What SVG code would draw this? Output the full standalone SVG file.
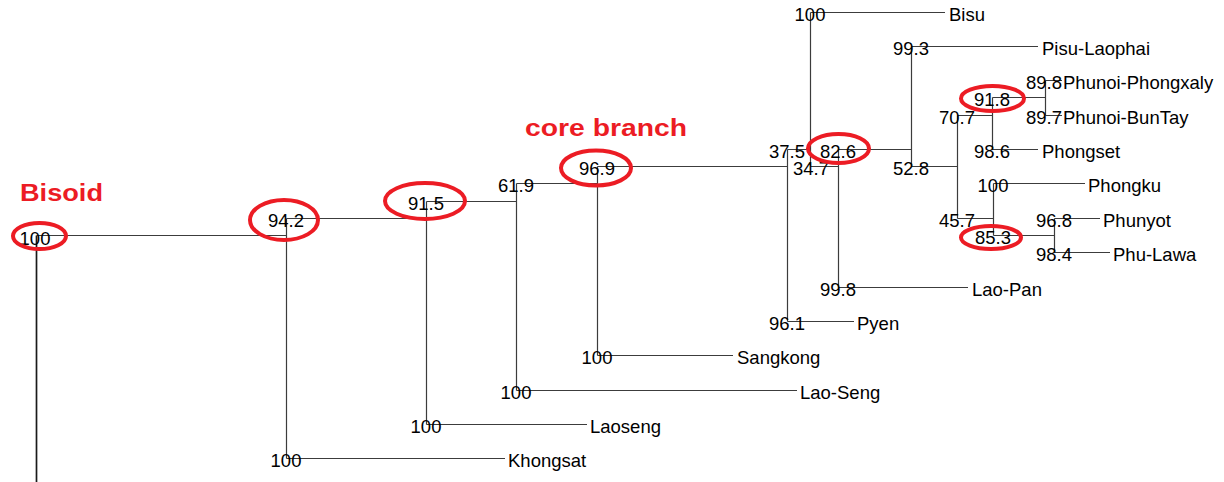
<svg xmlns="http://www.w3.org/2000/svg" width="1224" height="482" viewBox="0 0 1224 482">
  <style>
    .edge { fill: none; stroke: #3c3c3c; stroke-width: 1.2; }
    .root-edge { fill: none; stroke: #1a1a1a; stroke-width: 1.7; }
    .bs { font-family: "Liberation Sans", Arial, sans-serif; font-size: 18.5px; fill: #000; text-anchor: middle; }
    .taxon { font-family: "Liberation Sans", Arial, sans-serif; font-size: 18.5px; fill: #000; }
    .mark { fill: none; stroke: #ec1c24; stroke-width: 4; }
    .note { font-family: "Liberation Sans", Arial, sans-serif; font-size: 23px; font-weight: bold; fill: #ec1c24; }
  </style>

  <!-- branches: verticals at each internal node, horizontals to children -->
  <g id="connectors">
    <path class="root-edge" d="M36.5 235.5 V482"/>
    <path class="edge" d="M286.5 218.5 V458.5 M426.5 201.5 V424.5 M516.5 183.5 V390.5 M597.5 166.5 V355.5 M787.5 149.5 V321.5 M810.5 12.5 V166.5 M838.5 149.5 V287.5 M911.5 46.5 V166.5 M957.5 115.5 V218.5 M992.5 97.5 V149.5 M1045.5 80.5 V115.5 M993.5 183.5 V235.5 M1054.5 218.5 V252.5"/>
    <path class="edge" d="M36.5 235.5 H286.5 M286.5 218.5 H426.5 M286.5 458.5 H505 M426.5 201.5 H516.5 M426.5 424.5 H587 M516.5 183.5 H597.5 M516.5 390.5 H797 M597.5 166.5 H787.5 M597.5 355.5 H733 M787.5 149.5 H810.5 M787.5 321.5 H854 M810.5 12.5 H945 M810.5 166.5 H838.5 M838.5 149.5 H911.5 M838.5 287.5 H968 M911.5 46.5 H1038 M911.5 166.5 H957.5 M957.5 115.5 H992.5 M957.5 218.5 H993.5 M992.5 97.5 H1045.5 M992.5 149.5 H1038 M1045.5 80.5 H1062 M1045.5 115.5 H1062 M993.5 183.5 H1085 M993.5 235.5 H1054.5 M1054.5 218.5 H1100 M1054.5 252.5 H1110"/>
  </g>

  <!-- internal nodes (support values) -->
  <g id="n-root"><text class="bs" x="35" y="244.5">100</text></g>
  <g id="n-94-2"><text class="bs" x="286" y="227">94.2</text></g>
  <g id="n-91-5"><text class="bs" x="426" y="210">91.5</text></g>
  <g id="n-61-9"><text class="bs" x="516" y="192">61.9</text></g>
  <g id="n-96-9"><text class="bs" x="597" y="175">96.9</text></g>
  <g id="n-37-5"><text class="bs" x="787" y="158">37.5</text></g>
  <g id="n-34-7"><text class="bs" x="811" y="175">34.7</text></g>
  <g id="n-82-6"><text class="bs" x="838" y="158">82.6</text></g>
  <g id="n-52-8"><text class="bs" x="911" y="175">52.8</text></g>
  <g id="n-70-7"><text class="bs" x="957" y="124">70.7</text></g>
  <g id="n-45-7"><text class="bs" x="957" y="227">45.7</text></g>
  <g id="n-91-8"><text class="bs" x="992" y="106">91.8</text></g>
  <g id="n-85-3"><text class="bs" x="993" y="244">85.3</text></g>

  <!-- leaves: support value + taxon name -->
  <g id="leaf-bisu"><text class="bs" x="810" y="21">100</text><text class="taxon" x="949" y="21">Bisu</text></g>
  <g id="leaf-pisu-laophai"><text class="bs" x="911" y="55">99.3</text><text class="taxon" x="1042" y="55">Pisu-Laophai</text></g>
  <g id="leaf-phunoi-phongxaly"><text class="bs" x="1044" y="89">89.8</text><text class="taxon" x="1063" y="89">Phunoi-Phongxaly</text></g>
  <g id="leaf-phunoi-buntay"><text class="bs" x="1044" y="124">89.7</text><text class="taxon" x="1063" y="124">Phunoi-BunTay</text></g>
  <g id="leaf-phongset"><text class="bs" x="992" y="158">98.6</text><text class="taxon" x="1042" y="158">Phongset</text></g>
  <g id="leaf-phongku"><text class="bs" x="993" y="192">100</text><text class="taxon" x="1088" y="192">Phongku</text></g>
  <g id="leaf-phunyot"><text class="bs" x="1054" y="227">96.8</text><text class="taxon" x="1103" y="227">Phunyot</text></g>
  <g id="leaf-phu-lawa"><text class="bs" x="1054" y="261">98.4</text><text class="taxon" x="1113" y="261">Phu-Lawa</text></g>
  <g id="leaf-lao-pan"><text class="bs" x="838" y="296">99.8</text><text class="taxon" x="972" y="296">Lao-Pan</text></g>
  <g id="leaf-pyen"><text class="bs" x="787" y="330">96.1</text><text class="taxon" x="857" y="330">Pyen</text></g>
  <g id="leaf-sangkong"><text class="bs" x="597" y="364">100</text><text class="taxon" x="737" y="364">Sangkong</text></g>
  <g id="leaf-lao-seng"><text class="bs" x="516" y="399">100</text><text class="taxon" x="800" y="399">Lao-Seng</text></g>
  <g id="leaf-laoseng"><text class="bs" x="426" y="433">100</text><text class="taxon" x="590" y="433">Laoseng</text></g>
  <g id="leaf-khongsat"><text class="bs" x="286" y="467">100</text><text class="taxon" x="508" y="467">Khongsat</text></g>

  <!-- highlighted nodes and clade notes -->
  <g id="highlights">
    <ellipse class="mark" cx="39.5" cy="236" rx="26.5" ry="13"/>
    <ellipse class="mark" cx="284" cy="220" rx="34" ry="20"/>
    <ellipse class="mark" cx="425" cy="201" rx="40" ry="18"/>
    <ellipse class="mark" cx="596" cy="168" rx="35" ry="17.5"/>
    <ellipse class="mark" cx="838.5" cy="148.5" rx="30.5" ry="14.5"/>
    <ellipse class="mark" cx="992.5" cy="98.5" rx="31.5" ry="12.5"/>
    <ellipse class="mark" cx="991" cy="237.5" rx="30" ry="11.5"/>
    <text class="note" x="20" y="200.5" textLength="83" lengthAdjust="spacingAndGlyphs">Bisoid</text>
    <text class="note" x="525" y="135.5" textLength="162" lengthAdjust="spacingAndGlyphs">core branch</text>
  </g>
</svg>
